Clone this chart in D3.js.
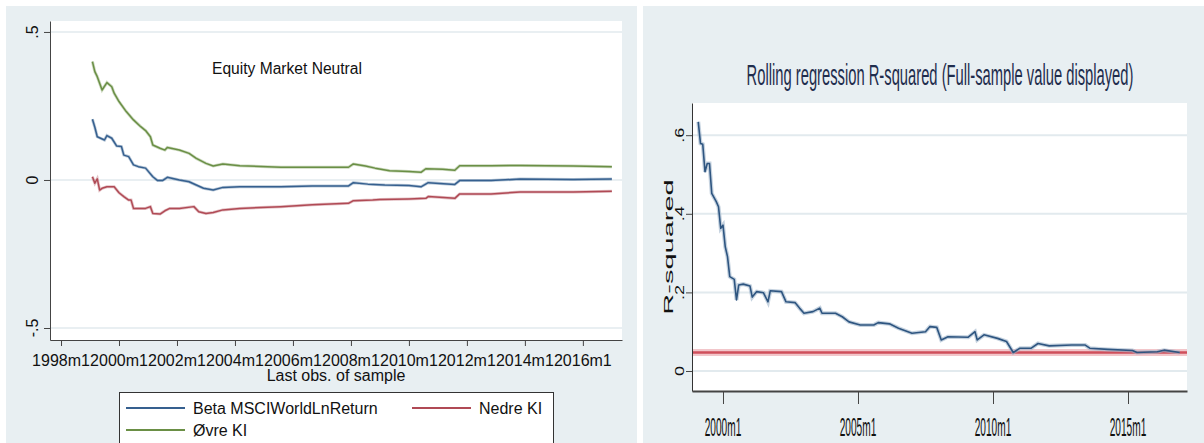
<!DOCTYPE html>
<html>
<head>
<meta charset="utf-8">
<script src="https://cdn.jsdelivr.net/npm/d3@7/dist/d3.min.js"></script>
<style>
  html, body { margin: 0; padding: 0; background: #ffffff; }
  svg { display: block; }
  text { font-family: "Liberation Sans", Arial, sans-serif; }
</style>
</head>
<body>
<svg id="chart" width="1204" height="443"></svg>
<script>
// ---------- Left panel: rolling beta with confidence band ----------
const betaDates = ["1999m2","1999m3","1999m4","1999m7","1999m8","1999m10","1999m12","2000m2","2000m3","2000m5","2000m7","2000m9","2000m12","2001m3","2001m5","2001m7","2001m9","2002m2","2002m6","2002m9","2002m12","2003m4","2003m8","2004m3","2005m8","2006m9","2007m12","2008m2","2008m8","2009m3","2010m1","2010m6","2010m9","2011m8","2011m10","2012m11","2013m11","2015m9","2017m1"];
const betaValues = [0.205,0.178,0.146,0.135,0.150,0.141,0.115,0.113,0.084,0.079,0.051,0.045,0.040,0.011,-0.002,-0.002,0.009,0.000,-0.006,-0.017,-0.028,-0.034,-0.025,-0.023,-0.023,-0.020,-0.020,-0.009,-0.014,-0.017,-0.019,-0.023,-0.009,-0.015,-0.002,-0.002,0.003,0.002,0.003];

const lowerDates = ["1999m2","1999m3","1999m4","1999m5","1999m6","1999m8","1999m11","2000m1","2000m3","2000m5","2000m6","2000m7","2000m12","2001m2","2001m3","2001m6","2001m8","2001m10","2002m2","2002m8","2002m10","2003m1","2003m4","2003m8","2004m3","2005m8","2006m9","2007m12","2008m2","2008m10","2009m1","2010m1","2010m8","2010m9","2011m8","2011m10","2012m11","2013m11","2015m9","2017m1"];
const lowerValues = [0.011,-0.011,0.004,-0.034,-0.028,-0.023,-0.023,-0.043,-0.056,-0.068,-0.068,-0.096,-0.096,-0.090,-0.113,-0.115,-0.104,-0.096,-0.096,-0.090,-0.107,-0.113,-0.110,-0.101,-0.096,-0.090,-0.084,-0.079,-0.070,-0.068,-0.066,-0.064,-0.062,-0.056,-0.062,-0.047,-0.047,-0.041,-0.041,-0.038];

const upperDates = ["1999m2","1999m3","1999m4","1999m6","1999m8","1999m10","1999m11","2000m1","2000m4","2000m7","2000m10","2000m12","2001m2","2001m3","2001m6","2001m8","2001m9","2002m2","2002m6","2002m9","2003m1","2003m4","2003m8","2004m3","2005m8","2006m9","2007m12","2008m2","2008m7","2008m11","2009m5","2010m1","2010m6","2010m8","2011m3","2011m8","2011m10","2012m11","2013m11","2015m9","2017m1"];
const upperValues = [0.400,0.366,0.349,0.304,0.329,0.315,0.293,0.265,0.231,0.203,0.180,0.167,0.146,0.118,0.107,0.101,0.110,0.101,0.090,0.073,0.056,0.047,0.054,0.048,0.043,0.043,0.043,0.054,0.047,0.040,0.031,0.029,0.026,0.038,0.036,0.033,0.048,0.048,0.049,0.047,0.045];

const leftYTicks = [-0.5, 0, 0.5];
const leftYTickLabels = ["-.5", "0", ".5"];
const leftXTicks = ["1998m1","2000m1","2002m1","2004m1","2006m1","2008m1","2010m1","2012m1","2014m1","2016m1"];
const leftNote = "Equity Market Neutral";
const leftXTitle = "Last obs. of sample";
const legendLabels = ["Beta MSCIWorldLnReturn", "Nedre KI", "Øvre KI"];

// ---------- Right panel: rolling R-squared ----------
const r2Dates = ["1999m2","1999m3","1999m4","1999m5","1999m6","1999m7","1999m8","1999m10","1999m11","1999m12","2000m1","2000m2","2000m3","2000m4","2000m6","2000m7","2000m8","2000m10","2001m1","2001m2","2001m4","2001m7","2001m9","2001m10","2002m3","2002m5","2002m9","2002m11","2003m1","2003m5","2003m8","2003m9","2004m3","2004m6","2004m9","2005m2","2005m8","2005m10","2006m3","2006m7","2007m1","2007m7","2007m9","2007m12","2008m2","2008m5","2009m2","2009m5","2009m6","2009m9","2010m3","2010m7","2010m10","2011m1","2011m6","2011m9","2012m2","2012m12","2013m6","2013m8","2014m4","2015m3","2015m5","2016m2","2016m5","2016m12"];
const r2Values = [0.634,0.579,0.577,0.507,0.528,0.528,0.452,0.431,0.418,0.363,0.371,0.316,0.291,0.240,0.233,0.181,0.219,0.221,0.216,0.188,0.202,0.199,0.176,0.204,0.202,0.176,0.174,0.160,0.147,0.151,0.160,0.147,0.147,0.138,0.125,0.117,0.117,0.123,0.120,0.109,0.096,0.100,0.113,0.111,0.079,0.087,0.086,0.100,0.079,0.092,0.083,0.075,0.047,0.058,0.058,0.070,0.064,0.066,0.066,0.058,0.055,0.052,0.047,0.049,0.053,0.047];
const r2FullSample = 0.047;

const rightYTicks = [0, 0.2, 0.4, 0.6];
const rightYTickLabels = ["0", ".2", ".4", ".6"];
const rightXTicks = ["2000m1","2005m1","2010m1","2015m1"];
const rightTitle = "Rolling regression R-squared (Full-sample value displayed)";
const rightYTitle = "R-squared";

// Stata monthly date "YYYYmM" -> fractional year
const parseMonth = s => { const [y, m] = s.split("m").map(Number); return y + (m - 1) / 12; };

const svg = d3.select("#chart");
const panelBg = "#e8eff2";
const gridColor = "#e2eaee";

// ================= LEFT PANEL =================
svg.append("rect").attr("x", 6).attr("y", 6).attr("width", 631).attr("height", 437).attr("fill", panelBg);

const xL = d3.scaleLinear().domain([1997.62, 2017.35]).range([50, 622]);
const yL = d3.scaleLinear().domain([-0.5405, 0.537]).range([340, 21]);

svg.append("rect").attr("x", 50).attr("y", 21).attr("width", 572).attr("height", 319).attr("fill", "#ffffff");

svg.append("g").selectAll("line").data(leftYTicks).join("line")
  .attr("x1", 50).attr("x2", 622)
  .attr("y1", d => yL(d)).attr("y2", d => yL(d))
  .attr("stroke", gridColor).attr("stroke-width", 1.5);

const leftSeries = [
  { dates: upperDates, values: upperValues, color: "#6a8f45" },
  { dates: betaDates, values: betaValues, color: "#36608f" },
  { dates: lowerDates, values: lowerValues, color: "#b04a55" }
];
const lineL = d3.line().x(d => xL(d[0])).y(d => yL(d[1]));
leftSeries.forEach(s => {
  const pts = s.dates.map((d, i) => [parseMonth(d), s.values[i]]);
  svg.append("path").datum(pts).attr("d", lineL)
    .attr("fill", "none").attr("stroke", s.color).attr("stroke-opacity", 0.35).attr("stroke-width", 3);
  svg.append("path").datum(pts).attr("d", lineL)
    .attr("fill", "none").attr("stroke", s.color).attr("stroke-width", 1.5).attr("stroke-linejoin", "round");
});

// left y axis
const axL = svg.append("g").attr("transform", "translate(50,0)")
  .call(d3.axisLeft(yL).tickValues(leftYTicks).tickSize(6).tickSizeOuter(0).tickFormat(""));
axL.select(".domain").attr("stroke", "#444");
axL.selectAll(".tick line").attr("stroke", "#444");
svg.append("g").selectAll("text").data(leftYTicks).join("text")
  .attr("transform", d => `translate(38,${yL(d)}) rotate(-90)`)
  .attr("text-anchor", "middle").attr("font-size", 16).attr("fill", "#111")
  .text((d, i) => leftYTickLabels[i]);

// left x axis
const axLB = svg.append("g").attr("transform", "translate(0,340)")
  .call(d3.axisBottom(xL).tickValues(leftXTicks.map(parseMonth)).tickSize(6).tickSizeOuter(0).tickFormat(""));
axLB.select(".domain").attr("stroke", "#444");
axLB.selectAll(".tick line").attr("stroke", "#444");
svg.append("g").selectAll("text").data(leftXTicks).join("text")
  .attr("x", d => xL(parseMonth(d))).attr("y", 366)
  .attr("text-anchor", "middle").attr("font-size", 16).attr("fill", "#111")
  .text(d => d);

svg.append("text").attr("x", 336).attr("y", 381).attr("text-anchor", "middle")
  .attr("font-size", 16).attr("fill", "#111").text(leftXTitle);

svg.append("text").attr("x", 212).attr("y", 74).attr("font-size", 15.6).attr("fill", "#111").text(leftNote);

// legend
svg.append("rect").attr("x", 119.5).attr("y", 392.5).attr("width", 434).attr("height", 70)
  .attr("fill", "#ffffff").attr("stroke", "#333").attr("stroke-width", 1);
const legendItems = [
  { label: legendLabels[0], color: "#36608f", x: 126, y: 408 },
  { label: legendLabels[1], color: "#b04a55", x: 412, y: 408 },
  { label: legendLabels[2], color: "#6a8f45", x: 126, y: 430 }
];
legendItems.forEach(it => {
  svg.append("line").attr("x1", it.x).attr("x2", it.x + 59).attr("y1", it.y).attr("y2", it.y)
    .attr("stroke", it.color).attr("stroke-width", 1.8);
  svg.append("text").attr("x", it.x + 67).attr("y", it.y + 6)
    .attr("font-size", 16).attr("fill", "#111").text(it.label);
});

// ================= RIGHT PANEL =================
svg.append("rect").attr("x", 643).attr("y", 6).attr("width", 561).attr("height", 437).attr("fill", panelBg);

const xR = d3.scaleLinear().domain([1998.852, 2017.185]).range([692, 1187]);
const yR = d3.scaleLinear().domain([-0.0509, 0.6819]).range([391, 103]);

svg.append("rect").attr("x", 692).attr("y", 103).attr("width", 495).attr("height", 288).attr("fill", "#ffffff");

svg.append("g").selectAll("line").data(rightYTicks).join("line")
  .attr("x1", 692).attr("x2", 1187)
  .attr("y1", d => yR(d)).attr("y2", d => yR(d))
  .attr("stroke", gridColor).attr("stroke-width", 2);

// full-sample reference line
svg.append("line").attr("x1", 692).attr("x2", 1187).attr("y1", yR(r2FullSample)).attr("y2", yR(r2FullSample))
  .attr("stroke", "#f2c6ca").attr("stroke-width", 7);
svg.append("line").attr("x1", 692).attr("x2", 1187).attr("y1", yR(r2FullSample)).attr("y2", yR(r2FullSample))
  .attr("stroke", "#cf4f5b").attr("stroke-width", 2.5);

const r2Pts = r2Dates.map((d, i) => [parseMonth(d), r2Values[i]]);
const lineR = d3.line().x(d => xR(d[0])).y(d => yR(d[1]));
svg.append("path").datum(r2Pts).attr("d", lineR)
  .attr("fill", "none").attr("stroke", "#9fb4c9").attr("stroke-opacity", 0.6).attr("stroke-width", 4);
svg.append("path").datum(r2Pts).attr("d", lineR)
  .attr("fill", "none").attr("stroke", "#2e5580").attr("stroke-width", 1.6).attr("stroke-linejoin", "round");

// right y axis
const axR = svg.append("g").attr("transform", "translate(692,0)")
  .call(d3.axisLeft(yR).tickValues(rightYTicks).tickSize(6).tickSizeOuter(0).tickFormat(""));
axR.select(".domain").attr("stroke", "#333");
axR.selectAll(".tick line").attr("stroke", "#444");
svg.append("g").selectAll("text").data(rightYTicks).join("text")
  .attr("transform", d => `translate(684,${yR(d)}) scale(0.75,1) rotate(-90)`)
  .attr("text-anchor", "middle").attr("font-size", 18).attr("fill", "#111")
  .text((d, i) => rightYTickLabels[i]);

// condensed axis title: glyphs squeezed across the text direction
svg.append("text")
  .attr("transform", `translate(673,247) scale(0.42,1) rotate(-90)`)
  .attr("text-anchor", "middle").attr("font-size", 29).attr("fill", "#111")
  .text(rightYTitle);

// right x axis
const axRB = svg.append("g").attr("transform", "translate(0,391)")
  .call(d3.axisBottom(xR).tickValues(rightXTicks.map(parseMonth)).tickSize(13).tickSizeOuter(0).tickFormat(""));
axRB.select(".domain").attr("stroke", "#444").attr("stroke-width", 2);
axRB.selectAll(".tick line").attr("stroke", "#444");
svg.append("g").selectAll("text").data(rightXTicks).join("text")
  .attr("transform", d => `translate(${xR(parseMonth(d))},436) scale(0.39,1)`)
  .attr("text-anchor", "middle").attr("font-size", 26).attr("fill", "#111")
  .text(d => d);

svg.append("text")
  .attr("transform", "translate(940,85) scale(0.5,1)")
  .attr("text-anchor", "middle").attr("font-size", 29.5).attr("fill", "#1f2d4d")
  .text(rightTitle);
</script>
</body>
</html>
